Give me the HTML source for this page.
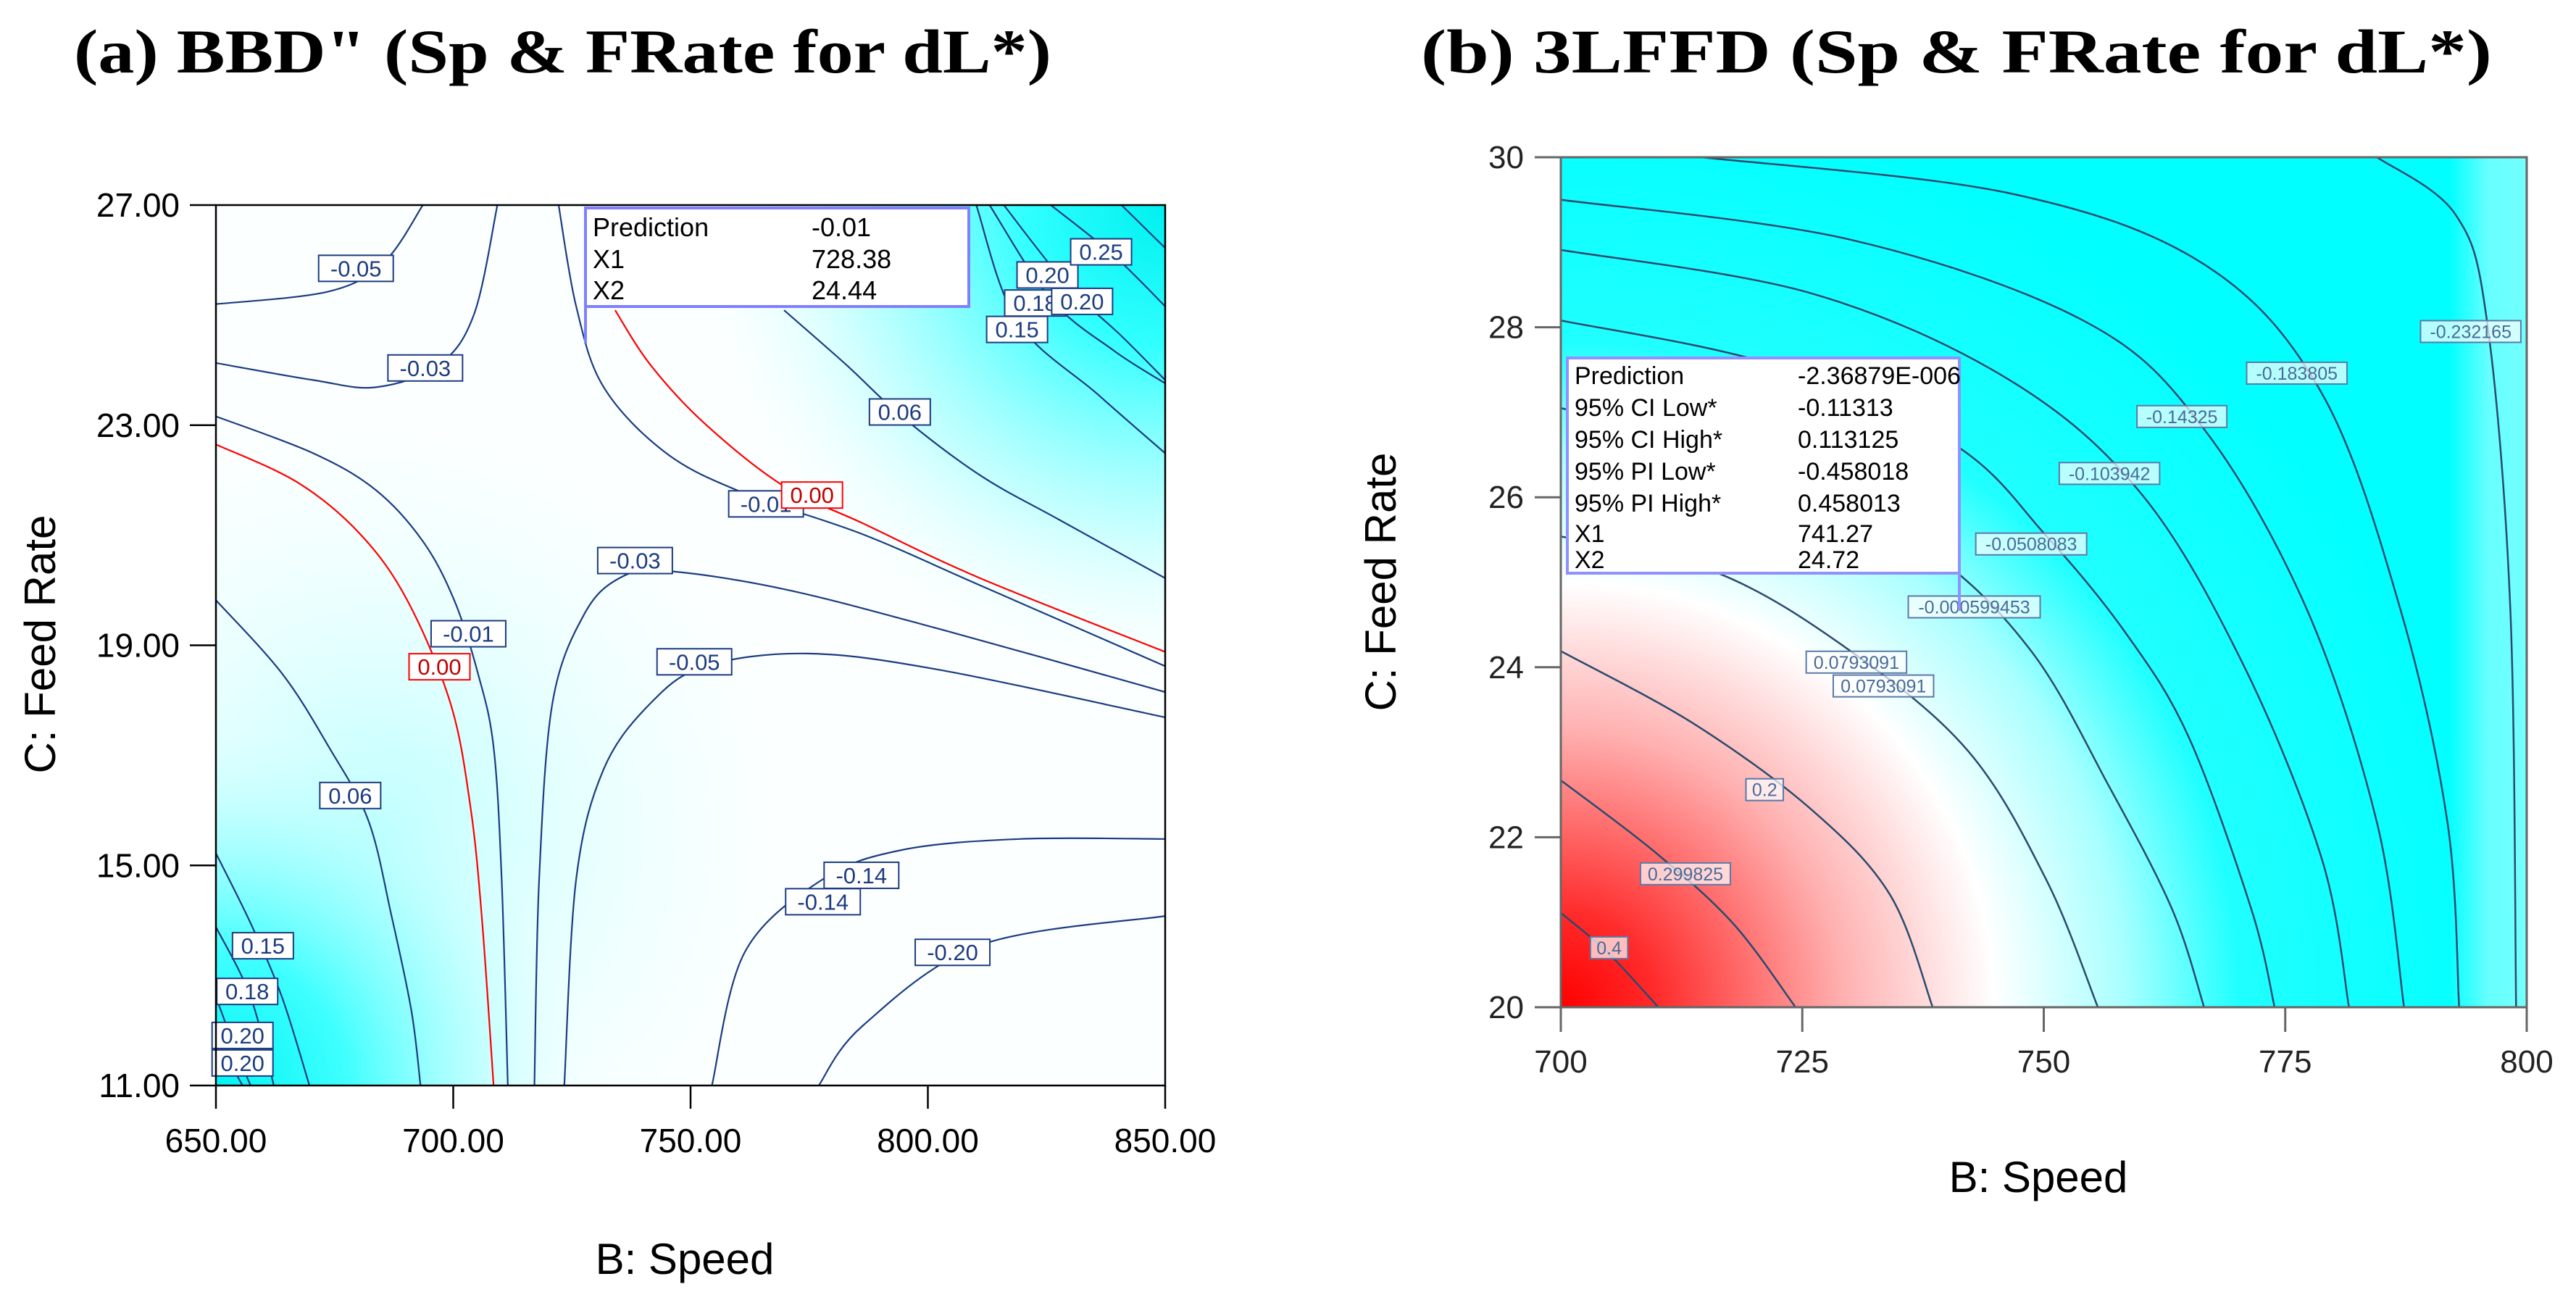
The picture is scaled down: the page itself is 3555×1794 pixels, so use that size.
<!DOCTYPE html>
<html><head><meta charset="utf-8">
<style>
html,body{margin:0;padding:0;background:#fff;}
svg{display:block;}
text{font-family:"Liberation Sans",sans-serif;}
.title{font-family:"Liberation Serif",serif;font-weight:bold;font-size:86px;fill:#000;}
</style></head>
<body>
<svg id="chart" width="3555" height="1794" viewBox="0 0 3555 1794" xmlns="http://www.w3.org/2000/svg">
<defs>
  <clipPath id="clipL"><rect x="298" y="283" width="1310" height="1215"/></clipPath>
  <clipPath id="clipR"><rect x="2154" y="217" width="1333" height="1173"/></clipPath>
  <radialGradient id="gLbl" gradientUnits="userSpaceOnUse" cx="298" cy="1498" r="520">
    <stop offset="0" stop-color="#00f4f4"/><stop offset="0.35" stop-color="#40ffff"/><stop offset="0.75" stop-color="#b8ffff" stop-opacity="0.6"/><stop offset="1" stop-color="#e8ffff" stop-opacity="0"/>
  </radialGradient>
  <radialGradient id="gLtr" gradientUnits="userSpaceOnUse" cx="1608" cy="283" r="640">
    <stop offset="0" stop-color="#00f0f0"/><stop offset="0.3" stop-color="#30ffff"/><stop offset="0.7" stop-color="#b0ffff" stop-opacity="0.7"/><stop offset="1" stop-color="#e8ffff" stop-opacity="0"/>
  </radialGradient>
  <radialGradient id="gLmid" gradientUnits="userSpaceOnUse" cx="520" cy="1150" r="560">
    <stop offset="0" stop-color="#b8ffff"/><stop offset="1" stop-color="#eaffff" stop-opacity="0"/>
  </radialGradient>
  <radialGradient id="gR" gradientUnits="userSpaceOnUse" cx="2154" cy="1390" r="1300" gradientTransform="translate(2154 1390) scale(1 0.98) translate(-2154 -1390)">
    <stop offset="0" stop-color="#ff0000"/><stop offset="0.1" stop-color="#ff2a2a"/><stop offset="0.3" stop-color="#ffb0b0"/><stop offset="0.46" stop-color="#ffffff"/><stop offset="0.6" stop-color="#a8ffff"/><stop offset="0.72" stop-color="#20ffff"/><stop offset="1" stop-color="#00ffff"/>
  </radialGradient>
  <linearGradient id="gRright" gradientUnits="userSpaceOnUse" x1="3380" y1="0" x2="3487" y2="0">
    <stop offset="0" stop-color="#80ffff" stop-opacity="0"/><stop offset="0.5" stop-color="#80ffff" stop-opacity="0.8"/><stop offset="1" stop-color="#80ffff" stop-opacity="0.9"/>
  </linearGradient>
</defs>

<text class="title" x="102" y="100" textLength="1349" lengthAdjust="spacingAndGlyphs">(a) BBD" (Sp &amp; FRate for dL*)</text>
<text class="title" x="1961" y="100" textLength="1478" lengthAdjust="spacingAndGlyphs">(b) 3LFFD    (Sp &amp; FRate for dL*)</text>

<g id="plotL">
  <rect x="298" y="283" width="1310" height="1215" fill="#fbffff"/>
  <g clip-path="url(#clipL)">
    <rect x="298" y="283" width="1310" height="1215" fill="url(#gLmid)"/>
    <rect x="298" y="283" width="1310" height="1215" fill="url(#gLbl)"/>
    <rect x="298" y="283" width="1310" height="1215" fill="url(#gLtr)"/>
    <g id="linesL"></g>
  </g>
  <g id="labelsL"></g>
  <rect x="298" y="283" width="1310" height="1215" fill="none" stroke="#000" stroke-width="2.5"/>
  <g id="axesL"></g>
  <line x1="808" y1="423" x2="808" y2="474" stroke="#8080ff" stroke-width="4"/>
  <g>
    <rect x="808" y="287" width="529" height="136" fill="#fff" stroke="#8080ff" stroke-width="4"/>
    <text x="818" y="326" font-size="36">Prediction</text><text x="1120" y="326" font-size="36">-0.01</text>
    <text x="818" y="370" font-size="36">X1</text><text x="1120" y="370" font-size="36">728.38</text>
    <text x="818" y="413" font-size="36">X2</text><text x="1120" y="413" font-size="36">24.44</text>
  </g>
  <text x="945" y="1758" font-size="60" text-anchor="middle">B: Speed</text>
  <text transform="translate(76 889) rotate(-90)" font-size="60" text-anchor="middle">C: Feed Rate</text>
</g>

<g id="plotR">
  <g clip-path="url(#clipR)">
    <rect x="2154" y="217" width="1333" height="1173" fill="url(#gR)"/>
    <rect x="2154" y="217" width="1333" height="1173" fill="url(#gRright)"/>
    <g id="linesR"></g>
  </g>
  <g id="labelsR"></g>
  <rect x="2154" y="217" width="1333" height="1173" fill="none" stroke="#666" stroke-width="3"/>
  <g id="axesR"></g>
  <line x1="2704" y1="791" x2="2704" y2="843" stroke="#9090ff" stroke-width="4"/>
  <g>
    <rect x="2163" y="494" width="541" height="297" fill="#fff" stroke="#9090ff" stroke-width="4"/>
    <text x="2173" y="530" font-size="34">Prediction</text><text x="2481" y="530" font-size="34">-2.36879E-006</text>
    <text x="2173" y="574" font-size="34">95% CI Low*</text><text x="2481" y="574" font-size="34">-0.11313</text>
    <text x="2173" y="618" font-size="34">95% CI High*</text><text x="2481" y="618" font-size="34">0.113125</text>
    <text x="2173" y="662" font-size="34">95% PI Low*</text><text x="2481" y="662" font-size="34">-0.458018</text>
    <text x="2173" y="706" font-size="34">95% PI High*</text><text x="2481" y="706" font-size="34">0.458013</text>
    <text x="2173" y="748" font-size="34">X1</text><text x="2481" y="748" font-size="34">741.27</text>
    <text x="2173" y="784" font-size="34">X2</text><text x="2481" y="784" font-size="34">24.72</text>
  </g>
  <text x="2813" y="1645" font-size="60" text-anchor="middle">B: Speed</text>
  <text transform="translate(1926 803) rotate(-90)" font-size="60" text-anchor="middle">C: Feed Rate</text>
</g>
</svg>

<script>
// ---------- Plot (a) data ----------
const aXTicks = [650, 700, 750, 800, 850];
const aYTicks = [11, 15, 19, 23, 27];
const aLevels = [-0.05, -0.03, -0.01, 0.00, 0.06, 0.15, 0.18, 0.20, 0.20, -0.03, -0.05, -0.14, -0.20, -0.01, 0.00, 0.06, 0.15, 0.18, 0.20, 0.25, 0.28];
const aLinesX = [
  [650,673.8,685.4,693.6],
  [650,670.5,683.7,696.9,704.4,709.3],
  [650,670.5,683.7,693.6,700.2,705.2,708.5,710.2,711.5],
  [650,667.2,680.4,690.3,699.4,703.6,706.0,708.5],
  [650,663.9,673.8,682.1,687.0,691.2,693.1],
  [650,657.3,663.9,669.7],
  [650,657.3,662.2],
  [650,654,657.3],
  [650,655.6],
  [717.1,718.1,720.9,727.5,735.0,744.9,769.7,802.7,850],
  [723.4,725.9,731.7,741.6,753.1,774.6,802.7,850],
  [754.5,761.4,777.9,794.5,819.3,850],
  [777.0,786.2,811.0,850],
  [722.2,725.9,731.7,744.9,761.4,786.2,811.0,850],
  [734.1,741.6,753.1,769.7,786.2,811.0,850],
  [769.7,782.9,794.5,811.0,827.5,850],
  [810.2,818.8,835.8,850],
  [813,825.9,839.1,850],
  [816,829.2,840.8,850],
  [825.9,839.1,850],
  [840.8,850]
];
const aLinesY = [
  [25.2,25.43,25.96,27],
  [24.13,23.82,23.69,24.09,25.02,27],
  [23.16,22.49,21.82,20.89,19.82,18.49,17.15,14.75,11],
  [22.65,21.96,21.02,19.82,17.95,16.08,14.08,11],
  [19.82,18.49,17.15,15.82,14.08,12.35,11],
  [15.22,13.95,12.61,11],
  [13.88,12.61,11],
  [12.61,11.68,11],
  [11.88,11],
  [11,14.75,17.95,19.55,20.22,20.35,20.02,19.29,18.15],
  [11,14.75,16.75,17.95,18.62,18.85,18.55,17.69],
  [11,13.42,14.75,15.28,15.48,15.48],
  [11,12.08,13.55,14.08],
  [27,25.16,23.69,22.49,21.76,21.02,20.09,18.62],
  [25.09,24.09,23.02,21.89,21.22,20.22,18.88],
  [25.09,24.09,23.16,22.09,21.29,20.22],
  [27,24.89,23.56,22.49],
  [27,25.29,24.36,23.76],
  [27,25.56,24.62,23.82],
  [27,26.09,25.16],
  [27,26.22]
];
const aLabelText = ["-0.05","-0.03","-0.01","0.00","0.06","0.15","0.18","0.20","0.20","0.06","-0.01","0.00","-0.03","-0.05","-0.14","-0.14","-0.20","0.15","0.18","0.20","0.20","0.25"];
const aLabelX = [679.5,694.1,703.2,697.1,678.3,659.9,656.6,655.6,655.6,794.1,765.9,775.6,738.3,750.8,786.0,777.9,805.2,818.8,822.6,832.5,825.2,836.5];
const aLabelY = [25.85,24.04,19.21,18.61,16.27,13.54,12.71,11.91,11.41,23.24,21.57,21.73,20.54,18.70,14.82,14.34,13.42,24.74,25.22,25.25,25.73,26.15];

// ---------- Plot (b) data ----------
const bXTicks = [700, 725, 750, 775, 800];
const bYTicks = [20, 22, 24, 26, 28, 30];
const bLevels = [0.4, 0.299825, 0.2, 0.0793091, -0.000599453, -0.0508083, -0.103942, -0.14325, -0.183805, -0.232165];
const bLinesX = [
  [700,704.8,710.1],
  [700,709.7,717.8,724.3],
  [700,713.7,725.9,734.1,738.5],
  [700,716.2,730.0,742.2,750.3,755.6],
  [700,721.9,738.1,748.7,756.8,763.3,766.6],
  [700,721.9,740.6,750.3,758.5,765.0,771.5,773.9],
  [700,725.9,746.3,760.1,770.7,778.8,781.6],
  [700,730.0,754.4,766.6,777.2,784.5,787.3],
  [714.6,746.3,766.6,778.8,786.9,791.8,793.0],
  [784.5,792.6,795.9,798.3,798.9]
];
const bLinesY = [
  [21.11,20.65,20],
  [22.67,21.83,20.99,20],
  [24.19,23.34,22.33,21.32,20],
  [25.54,25.11,24.19,23.01,21.49,20],
  [27.05,26.38,25.37,24.19,22.59,21.15,20],
  [28.08,27.56,26.63,25.54,24.4,23.18,21.15,20],
  [28.91,28.40,27.39,26.04,24.02,21.74,20],
  [29.50,29.03,28.06,26.80,24.69,22.17,20],
  [30,29.58,28.74,27.22,24.69,22.17,20],
  [30,29.33,28.06,24.69,20]
];
const bLabelText = ["-0.232165","-0.183805","-0.14325","-0.103942","-0.0508083","-0.000599453","0.0793091","0.0793091","0.2","0.299825","0.4"];
const bLabelX = [794.2,776.2,764.3,756.8,748.7,742.8,730.6,733.4,721.1,712.9,705.0];
const bLabelY = [27.95,27.46,26.95,26.28,25.45,24.71,24.06,23.78,22.56,21.57,20.70];

// ---------- helpers ----------
const NS = "http://www.w3.org/2000/svg";
function mk(tag, attrs, parent) {
  const e = document.createElementNS(NS, tag);
  for (const k in attrs) e.setAttribute(k, attrs[k]);
  parent.appendChild(e);
  return e;
}
const xA = v => 298 + (v - 650) / 200 * 1310;
const yA = v => 1498 - (v - 11) / 16 * 1215;
const xB = v => 2154 + (v - 700) / 100 * 1333;
const yB = v => 1390 - (v - 20) / 10 * 1173;

function smoothPath(pts) {
  if (pts.length < 3) return "M" + pts.map(p => p.join(",")).join("L");
  let d = "M" + pts[0][0] + "," + pts[0][1];
  for (let i = 0; i < pts.length - 1; i++) {
    const p0 = pts[Math.max(0, i - 1)], p1 = pts[i], p2 = pts[i + 1], p3 = pts[Math.min(pts.length - 1, i + 2)];
    const c1 = [p1[0] + (p2[0] - p0[0]) / 6, p1[1] + (p2[1] - p0[1]) / 6];
    const c2 = [p2[0] - (p3[0] - p1[0]) / 6, p2[1] - (p3[1] - p1[1]) / 6];
    d += "C" + c1.join(",") + " " + c2.join(",") + " " + p2.join(",");
  }
  return d;
}

// ---------- plot a ----------
const gLA = document.getElementById("linesL");
aLinesX.forEach((xs, i) => {
  const pts = xs.map((x, j) => [xA(x), yA(aLinesY[i][j])]);
  const p = mk("path", {d: smoothPath(pts), fill: "none", stroke: aLevels[i] === 0 ? "#ff0000" : "#1c3c80", "stroke-width": 2.2}, gLA);
  
  
});
const gLabA = document.getElementById("labelsL");
aLabelText.forEach((t, i) => {
  const red = t === "0.00";
  const g = mk("g", {}, gLabA);
  
  
  const w = 19 * t.length + 8;
  mk("rect", {x: xA(aLabelX[i]) - w / 2, y: yA(aLabelY[i]) - 18, width: w, height: 36, fill: "#fff", stroke: red ? "#ff0000" : "#1c3c80", "stroke-width": 2}, g);
  const tx = mk("text", {x: xA(aLabelX[i]), y: yA(aLabelY[i]) + 11, "font-size": 31, "text-anchor": "middle", fill: red ? "#c00000" : "#1c3c80"}, g);
  tx.textContent = t;
});
const gAxA = document.getElementById("axesL");
aXTicks.forEach(v => {
  const l = mk("line", {x1: xA(v), x2: xA(v), y1: 1498, y2: 1530, stroke: "#000", "stroke-width": 2.5}, gAxA);
  
  
  const t = mk("text", {x: xA(v), y: 1590, "font-size": 46, "text-anchor": "middle"}, gAxA);
  
  
  t.textContent = v.toFixed(2);
});
aYTicks.forEach(v => {
  const l = mk("line", {x1: 262, x2: 298, y1: yA(v), y2: yA(v), stroke: "#000", "stroke-width": 2.5}, gAxA);
  
  
  const t = mk("text", {x: 248, y: yA(v) + 16, "font-size": 46, "text-anchor": "end"}, gAxA);
  
  
  t.textContent = v.toFixed(2);
});

// ---------- plot b ----------
const gLB = document.getElementById("linesR");
bLinesX.forEach((xs, i) => {
  const pts = xs.map((x, j) => [xB(x), yB(bLinesY[i][j])]);
  const p = mk("path", {d: smoothPath(pts), fill: "none", stroke: "#2a4a6e", "stroke-width": 2.5}, gLB);
  
  
});
const gLabB = document.getElementById("labelsR");
bLabelText.forEach((t, i) => {
  const g = mk("g", {}, gLabB);
  
  
  const w = 14.5 * t.length + 8;
  mk("rect", {x: xB(bLabelX[i]) - w / 2, y: yB(bLabelY[i]) - 15, width: w, height: 30, fill: "#ffffff", "fill-opacity": 0.7, stroke: "#5a7aa8", "stroke-width": 2}, g);
  const tx = mk("text", {x: xB(bLabelX[i]), y: yB(bLabelY[i]) + 9, "font-size": 25, "text-anchor": "middle", fill: "#4a6a98"}, g);
  tx.textContent = t;
});
const gAxB = document.getElementById("axesR");
bXTicks.forEach(v => {
  const l = mk("line", {x1: xB(v), x2: xB(v), y1: 1390, y2: 1424, stroke: "#666", "stroke-width": 3}, gAxB);
  
  
  const t = mk("text", {x: xB(v), y: 1480, "font-size": 44, "text-anchor": "middle", fill: "#222"}, gAxB);
  
  
  t.textContent = v;
});
bYTicks.forEach(v => {
  const l = mk("line", {x1: 2118, x2: 2154, y1: yB(v), y2: yB(v), stroke: "#666", "stroke-width": 3}, gAxB);
  
  
  const t = mk("text", {x: 2103, y: yB(v) + 15, "font-size": 44, "text-anchor": "end", fill: "#222"}, gAxB);
  
  
  t.textContent = v;
});
</script>
</body></html>
